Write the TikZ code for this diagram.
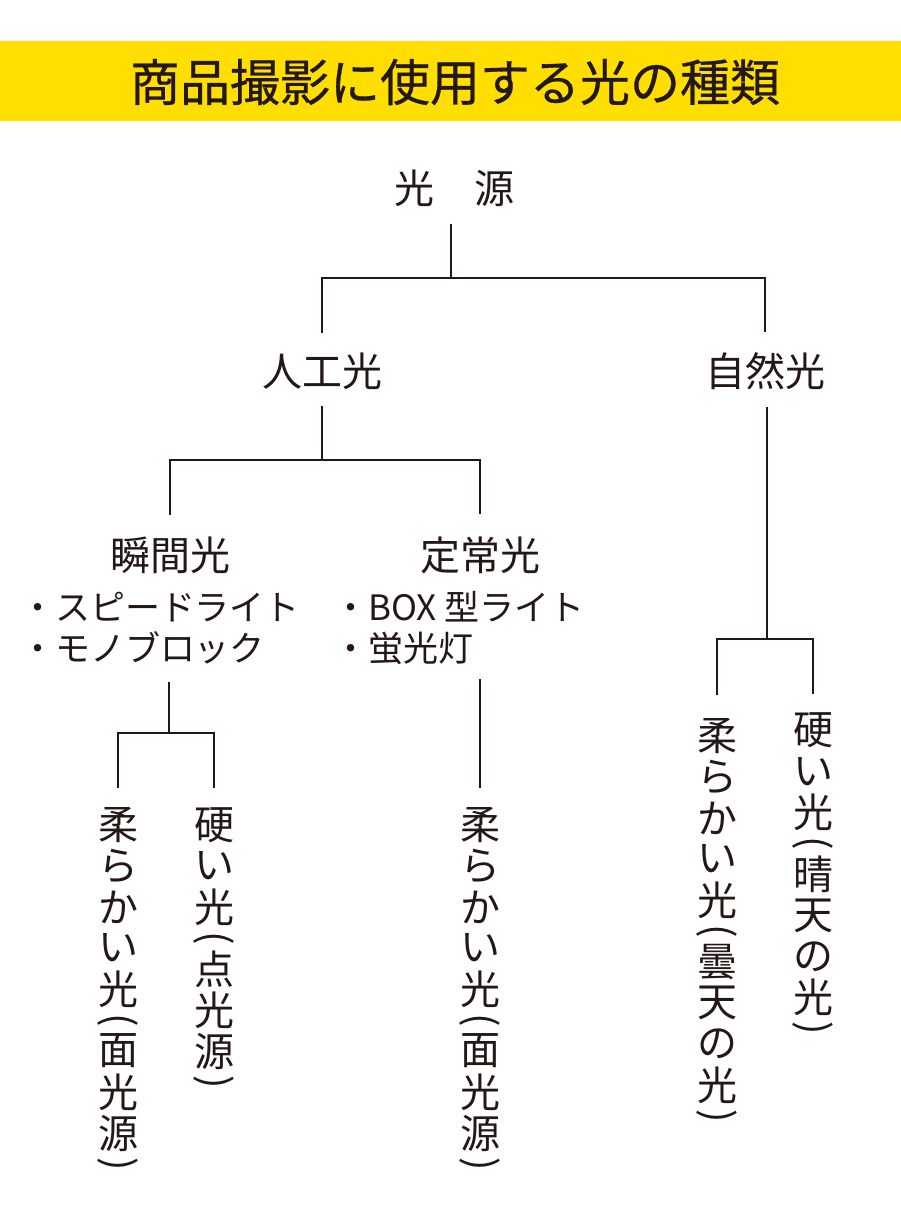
\documentclass[tikz,border=0pt]{standalone}
\usepackage{fontspec}
\setmainfont{Noto Sans CJK JP}
\newfontfamily\cjktitle[FakeBold=0.6]{Noto Sans CJK JP}
\definecolor{ink}{HTML}{231815}
\definecolor{bar}{HTML}{FFDE00}
\newcommand{\vs}[1]{\vbox to 41pt{\vss\hbox to 44pt{\hss#1\hss}\vss}}
\newcommand{\ps}[1]{\vbox to 21pt{\vss\hbox to 44pt{\hss#1\hss}\vss}}
\newcommand{\vlp}{\ps{\rotatebox{-90}{(}}}
\newcommand{\vrp}{\ps{\rotatebox{-90}{)}}}
\newcommand{\vcol}[1]{\vbox{\offinterlineskip #1}}
\tikzset{
  lbl/.style={inner sep=0pt, outer sep=0pt, text=ink, font=\fontsize{40}{48}\selectfont},
  bul/.style={lbl, anchor=west, font=\fontsize{35}{40}\selectfont},
  vcolumn/.style={inner sep=0pt, outer sep=0pt, anchor=north, text=ink, font=\fontsize{40}{48}\selectfont},
  conn/.style={draw=ink, line width=1.6pt}
}
\begin{document}
\begin{tikzpicture}[x=1pt,y=-1pt]
\useasboundingbox (0,0) rectangle (901,1219);
\fill[white] (0,0) rectangle (901,1219);
\fill[bar] (0,41) rectangle (901,121);
\node[lbl, font=\cjktitle\fontsize{50}{56}\selectfont] (title) at (455,82) {商品撮影に使用する光の種類};

\node[lbl] (src) at (454,188) {光　源};
\node[lbl] (art) at (322,371) {人工光};
\node[lbl] (nat) at (765,371) {自然光};
\node[lbl] (inst) at (170,555) {瞬間光};
\node[lbl] (cont) at (480,555) {定常光};

\node[bul] (bA1) at (20,607) {・スピードライト};
\node[bul] (bA2) at (20,648) {・モノブロック};
\node[bul] (bB1) at (333.5,607) {・BOX 型ライト};
\node[bul] (bB2) at (333.5,648) {・蛍光灯};

\node[vcolumn] (colA) at (118,804.5) {\vcol{\vs{柔}\vs{ら}\vs{か}\vs{い}\vs{光}\vlp\vs{面}\vs{光}\vs{源}\vrp}};
\node[vcolumn] (colB) at (214,804.5) {\vcol{\vs{硬}\vs{い}\vs{光}\vlp\vs{点}\vs{光}\vs{源}\vrp}};
\node[vcolumn] (colC) at (480,804.5) {\vcol{\vs{柔}\vs{ら}\vs{か}\vs{い}\vs{光}\vlp\vs{面}\vs{光}\vs{源}\vrp}};
\node[vcolumn] (colD) at (717,715.5) {\vcol{\vs{柔}\vs{ら}\vs{か}\vs{い}\vs{光}\vlp\vs{曇}\vs{天}\vs{の}\vs{光}\vrp}};
\node[vcolumn] (colE) at (813,710) {\vcol{\vs{硬}\vs{い}\vs{光}\vlp\vs{晴}\vs{天}\vs{の}\vs{光}\vrp}};

\coordinate (j1) at (451,278);
\coordinate (j2) at (322,460);
\coordinate (j3) at (767,639);
\coordinate (j4) at (169,733);

\draw[conn] ([yshift=-18pt]src.south -| j1) -- (j1);
\draw[conn] ([yshift=20pt]art.north) |- (j1) -| ([yshift=20pt]nat.north);
\draw[conn] ([yshift=-17pt]art.south) -- (j2);
\draw[conn] ([yshift=22pt]inst.north) |- (j2) -| ([yshift=22pt]cont.north);
\draw[conn] ([yshift=-17pt]nat.south -| j3) -- (j3);
\draw[conn] ([yshift=21pt]colD.north) |- (j3) -| ([yshift=16pt]colE.north);
\draw[conn] ([yshift=-18pt]bA2.south -| j4) -- (j4);
\draw[conn] ([yshift=17pt]colA.north) |- (j4) -| ([yshift=17pt]colB.north);
\draw[conn] ([yshift=-15pt]bB2.south -| colC.north) -- ([yshift=17pt]colC.north);
\end{tikzpicture}
\end{document}
